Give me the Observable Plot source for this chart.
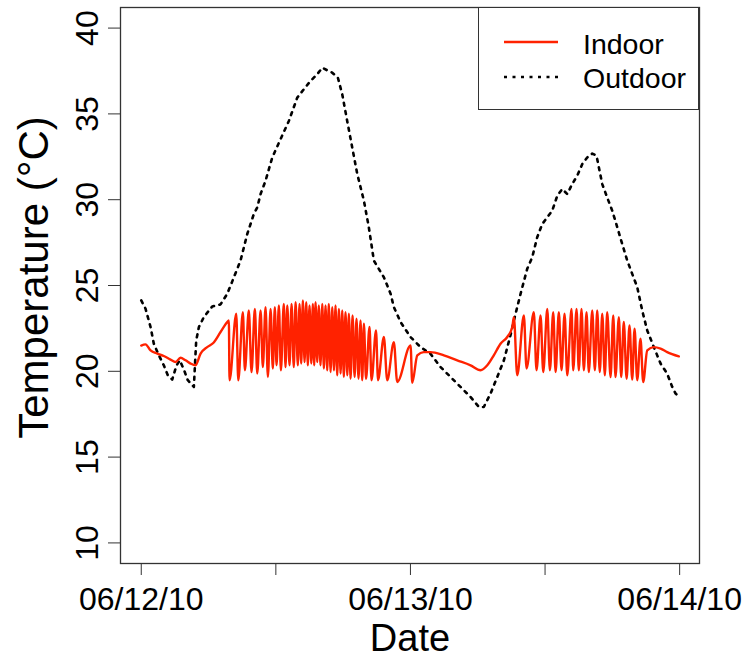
<!DOCTYPE html>
<html><head><meta charset="utf-8">
<script src="https://cdn.jsdelivr.net/npm/d3@7"></script>
<script src="https://cdn.jsdelivr.net/npm/@observablehq/plot@0.6"></script>
<style>
body{margin:0;background:#fff;font-family:"Liberation Sans",Arial,sans-serif;}
#wrap{position:relative;width:746px;height:658px;}
#legend{position:absolute;left:478px;top:7px;width:221px;height:103px;box-sizing:border-box;border:1.3px solid #333;background:#fff;}
#legend svg{display:block;}
</style></head><body><div id="wrap"></div>
<script>
// hours after 06/12/10 00:00
const indoorHours = [0.00,0.38,0.83,1.43,2.01,2.61,3.06,3.50,3.95,4.40,4.84,5.29,5.88,6.42,7.07,7.67,7.81,
7.87,8.47,8.65,9.06,9.24,9.59,9.83,10.13,10.34,10.64,10.84,11.08,11.29,11.53,11.73,11.91,12.06,12.27,12.45,12.71,12.86,13.02,13.22,13.40,13.60,13.76,13.96,14.11,14.26,14.41,14.56,14.71,14.85,15.00,15.16,15.30,15.42,15.54,15.69,15.83,15.98,16.14,16.28,16.43,16.58,16.72,16.88,17.03,17.18,17.32,17.47,17.62,17.77,17.92,18.06,18.21,18.37,18.51,18.66,18.84,19.02,19.19,19.37,19.55,19.70,19.85,20.04,20.35,20.53,20.93,21.11,21.63,21.93,22.52,22.82,24.01,24.16,
24.61,25.19,25.79,26.98,28.17,29.36,30.25,30.85,31.43,32.03,32.63,33.08,33.22,
33.52,34.11,34.35,35.00,35.24,35.60,35.84,36.20,36.43,36.73,36.94,37.23,37.47,37.74,37.98,38.36,38.51,38.81,39.01,39.25,39.46,39.70,39.90,40.21,40.44,40.65,40.88,41.10,41.33,41.54,41.84,42.08,42.28,42.58,42.79,43.02,43.27,43.53,43.77,43.98,44.22,44.51,44.75,
45.11,45.70,46.30,46.89,47.93];
const indoorTemp = [21.5,21.57,21.22,21.03,20.89,20.68,20.54,20.79,20.64,20.45,20.35,21.03,21.41,21.65,22.29,22.87,22.97,
19.48,23.35,19.48,23.45,20.06,23.55,19.96,23.64,19.87,23.55,20.25,23.74,19.67,23.64,20.16,23.74,20.35,23.84,20.06,23.93,20.25,23.84,20.35,23.93,20.25,24.03,20.35,23.93,20.45,24.13,20.54,24.03,20.35,23.84,20.45,23.93,20.35,24.03,20.54,23.84,20.35,23.93,20.16,23.84,20.06,23.93,19.96,23.74,20.06,23.84,19.77,23.64,19.87,23.55,19.67,23.45,19.77,23.35,19.57,23.26,19.67,23.06,19.57,22.97,19.48,22.77,19.57,22.58,19.48,22.38,19.48,22.0,19.48,21.70,19.38,21.51,19.33,
20.93,21.12,21.12,20.93,20.64,20.35,20.06,20.35,20.93,21.61,22.0,22.58,23.16,
19.77,23.26,20.16,23.45,20.06,23.26,19.96,23.64,20.06,23.45,19.96,23.45,20.06,23.35,19.77,23.64,20.06,23.64,20.06,23.64,20.06,23.45,19.96,23.55,20.06,23.55,19.96,23.35,19.77,23.45,19.67,23.26,19.67,23.16,19.67,22.87,19.57,22.67,19.52,22.48,19.48,21.90,19.38,
21.22,21.41,21.32,21.12,20.87];

const outdoorHours = [0.00,0.38,0.83,1.12,1.57,2.01,2.37,2.76,3.15,3.44,3.80,4.15,4.69,4.78,4.90,5.14,5.58,6.33,7.07,7.67,8.26,8.85,9.45,10.04,10.34,10.64,11.08,11.68,12.42,13.16,13.91,14.50,15.09,15.69,16.14,16.58,17.03,17.53,17.92,18.36,18.81,19.26,19.85,20.29,20.74,21.63,22.23,22.52,23.12,24.00,24.90,25.78,26.68,27.57,28.46,29.35,30.10,30.54,31.14,31.74,32.33,32.92,33.37,33.82,34.41,34.86,35.30,35.75,36.19,36.64,37.09,37.53,37.98,38.42,38.87,39.32,39.76,40.21,40.59,40.80,41.10,41.54,41.99,42.44,42.88,43.33,43.77,44.22,44.66,45.11,45.70,46.30,46.89,47.34,47.64,47.82];
const outdoorTemp = [24.13,23.65,22.58,21.61,20.93,20.35,19.77,19.52,20.35,20.64,20.10,19.48,19.09,20.25,21.80,22.58,23.16,23.78,23.90,24.52,25.48,26.45,28.00,29.17,29.55,30.33,31.10,32.46,33.53,34.59,35.95,36.44,36.92,37.31,37.69,37.54,37.40,37.11,36.14,34.59,33.04,31.49,29.94,28.39,26.45,25.48,24.52,23.74,22.87,22.0,21.41,21.03,20.25,19.67,19.09,18.51,17.92,17.92,18.70,19.67,20.64,22.10,23.35,24.52,25.97,26.65,27.81,28.58,28.97,29.36,30.23,30.62,30.33,30.91,31.40,32.08,32.46,32.69,32.56,31.88,30.91,30.13,29.36,28.39,27.42,26.45,25.68,24.90,23.55,22.38,21.41,20.45,19.86,19.09,18.70,18.60];

const xTickHours = [0, 12, 24, 36, 48];
const yTicks = [10, 15, 20, 25, 30, 35, 40];
const seriesNames = ["Indoor", "Outdoor"];
const seriesColors = ["#ff2200", "black"];

const base = Date.UTC(2010, 5, 12);
const toDate = h => new Date(base + h * 3600e3);
const indoor = indoorHours.map((h, i) => ({date: toDate(h), temp: indoorTemp[i]}));
const outdoor = outdoorHours.map((h, i) => ({date: toDate(h), temp: outdoorTemp[i]}));
const xTicks = xTickHours.map(toDate);
const fmt = d3.utcFormat("%m/%d/%y");
const FONT = "Liberation Sans, Arial, Helvetica, sans-serif";

const chart = Plot.plot({
  width: 746, height: 658,
  marginLeft: 120, marginRight: 47, marginTop: 7, marginBottom: 95,
  style: {fontFamily: FONT, background: "white", color: "black", overflow: "visible"},
  x: {type: "utc", domain: [toDate(-1.85), toDate(49.77)]},
  y: {domain: [8.8, 41.2]},
  marks: [
    Plot.frame({stroke: "#333", strokeWidth: 1.3}),
    Plot.axisX({ticks: xTicks, tickSize: 12, tickPadding: 12, fontSize: 32, stroke: "#333",
      tickFormat: d => d.getUTCHours() === 0 ? fmt(d) : "", label: null}),
    Plot.axisY({ticks: yTicks, tickSize: 12, stroke: "#333", tickFormat: () => "", label: null}),
    Plot.text(yTicks, {y: d => d, text: d => String(d), frameAnchor: "left", dx: -33, rotate: -90,
      fontSize: 32, textAnchor: "middle", lineAnchor: "middle", fill: "black"}),
    Plot.text(["Temperature (°C)"], {text: d => d, frameAnchor: "left", dx: -86, dy: -8, rotate: -90,
      fontSize: 42, textAnchor: "middle", lineAnchor: "middle", fill: "black"}),
    Plot.text(["Date"], {text: d => d, frameAnchor: "bottom", dy: 75, fontSize: 38,
      textAnchor: "middle", lineAnchor: "middle", fill: "black"}),
    Plot.line(outdoor, {x: "date", y: "temp", stroke: seriesColors[1], strokeWidth: 2.6, strokeDasharray: "3,5.5"}),
    Plot.line(indoor, {x: "date", y: "temp", stroke: seriesColors[0], strokeWidth: 2.4, curve: "monotone-x"})
  ]
});
const wrap = document.getElementById("wrap");
wrap.appendChild(chart);

// legend
const leg = document.createElement("div");
leg.id = "legend";
leg.innerHTML = `<svg width="219" height="101" font-family="${FONT}">
  <line x1="25" x2="79" y1="34" y2="34" stroke="${seriesColors[0]}" stroke-width="2.4"/>
  <text x="104" y="46" font-size="28.5" fill="black">${seriesNames[0]}</text>
  <line x1="25" x2="79" y1="69" y2="69" stroke="${seriesColors[1]}" stroke-width="2.6" stroke-dasharray="3,5.5"/>
  <text x="104" y="80" font-size="28.5" fill="black">${seriesNames[1]}</text>
</svg>`;
wrap.appendChild(leg);
</script>
</body></html>
